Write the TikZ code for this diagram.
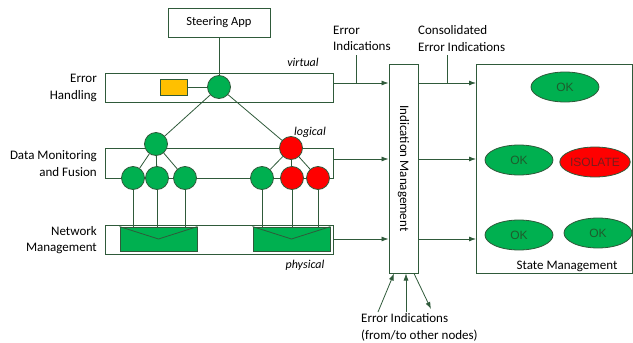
\documentclass[tikz,border=0pt]{standalone}
\usepackage{fontspec}
\setmainfont{Carlito}
\newfontfamily\arialfont{Liberation Sans}
\usetikzlibrary{arrows.meta,shapes.geometric}
\definecolor{linegreen}{HTML}{2F5A3A}
\definecolor{fillgreen}{HTML}{00B050}
\definecolor{fillred}{HTML}{FF0000}
\definecolor{fillyellow}{HTML}{FFC000}
\definecolor{okgreen}{HTML}{1E5C2C}
\definecolor{isored}{HTML}{7A1C1C}
\begin{document}
\begin{tikzpicture}[x=1pt,y=-1pt,
    every node/.style={font=\fontsize{13}{16.5}\selectfont},
    box/.style={draw=linegreen, line width=1pt, fill=white, inner sep=0pt},
    band/.style={box, minimum width=228pt, minimum height=29pt},
    gcirc/.style={circle, draw=linegreen, line width=0.8pt, fill=fillgreen, minimum size=23pt, inner sep=0pt},
    rcirc/.style={gcirc, fill=fillred},
    netbox/.style={draw=linegreen, line width=0.8pt, fill=fillgreen, minimum width=77pt, minimum height=24pt, inner sep=0pt},
    okstate/.style={ellipse, draw=linegreen, line width=0.8pt, fill=fillgreen, text=okgreen, minimum width=68pt, minimum height=30pt, inner sep=0pt, font=\arialfont\fontsize{12}{14}\selectfont},
    badstate/.style={okstate, fill=fillred, text=isored},
    lbl/.style={align=right, anchor=east, inner sep=0pt},
    tag/.style={font=\fontsize{12}{14}\selectfont\itshape},
    note/.style={anchor=west, align=left, inner sep=0pt},
    conn/.style={draw=linegreen, line width=0.8pt},
    arr/.style={conn, -{Latex[length=7pt,width=5pt]}}
  ]
  \useasboundingbox (0,0) rectangle (633,343);

  \node[box, minimum width=102pt, minimum height=29pt, font=\fontsize{12.5}{15}\selectfont] (app) at (219,22.5) {Steering App};

  \node[band] (eh) at (219,87.5) {};
  \node[band, minimum height=30pt] (dm) at (219,163) {};
  \node[band] (nm) at (219,239.5) {};

  \node[lbl] at (97,88) {Error\\Handling};
  \node[lbl] at (97,163.5) {Data Monitoring\\and Fusion};
  \node[lbl] at (97,240) {Network\\Management};

  \node[tag] at (303,62) {virtual};
  \node[tag] at (310,132) {logical};
  \node[tag] at (305,265) {physical};

  \node[draw=linegreen, line width=0.8pt, fill=fillyellow, minimum width=27pt, minimum height=16pt, inner sep=0pt] (err) at (173.5,87) {};

  \node[netbox] (nb1) at (158.5,239) {};
  \node[netbox] (nb2) at (291.5,239) {};
  \draw[conn] (nb1.north west) -- (nb1.center) -- (nb1.north east);
  \draw[conn] (nb2.north west) -- (nb2.center) -- (nb2.north east);

  \node[gcirc] (c0) at (219,87) {};
  \node[gcirc] (p1) at (156,144) {};
  \node[rcirc] (p2) at (291,148) {};
  \node[gcirc] (l1) at (133,178) {};
  \node[gcirc] (l2) at (157,178) {};
  \node[gcirc] (l3) at (185,178) {};
  \node[gcirc] (l4) at (262,178) {};
  \node[rcirc] (l5) at (292,178) {};
  \node[rcirc] (l6) at (318,178) {};

  \draw[conn] (app) -- (c0);
  \draw[conn] (err) -- (c0);
  \draw[conn] (c0) -- (p1);
  \draw[conn] (c0) -- (p2);
  \foreach \leaf in {l1,l2,l3} {
    \draw[conn] (p1) -- (\leaf);
    \draw[conn] (\leaf) -- (\leaf |- nb1.north);
  }
  \foreach \leaf in {l4,l5,l6} {
    \draw[conn] (p2) -- (\leaf);
    \draw[conn] (\leaf) -- (\leaf |- nb2.north);
  }

  \node[box, minimum width=29pt, minimum height=209pt] (im) at (403.5,168.5) {\rotatebox{-90}{Indication Management}};
  \node[box, minimum width=156pt, minimum height=209pt] (sm) at (554.5,168.5) {};
  \node at (567,266) {State Management};

  \node[okstate] (s1) at (565,87) {OK};
  \node[okstate] (s2) at (519,160) {OK};
  \node[badstate] (s3) at (595,162) {ISOLATE};
  \node[okstate] (s4) at (519,235) {OK};
  \node[okstate] (s5) at (598,233) {OK};

  \coordinate (y1) at (0,83);
  \coordinate (y2) at (0,159);
  \coordinate (y3) at (0,239);
  \draw[arr] (eh.east |- y1) -- (im.west |- y1);
  \draw[arr] (dm.east |- y2) -- (im.west |- y2);
  \draw[arr] (nm.east |- y3) -- (im.west |- y3);
  \draw[arr] (im.east |- y1) -- (sm.west |- y1);
  \draw[arr] (im.east |- y2) -- (sm.west |- y2);
  \draw[arr] (im.east |- y3) -- (sm.west |- y3);

  \node[note] (ei) at (333,38.5) {Error\\Indications};
  \node[note] (cei) at (418,38.5) {Consolidated\\Error Indications};
  \coordinate (eitail) at (356,55);
  \coordinate (ceitail) at (447,55);
  \draw[conn] (eitail) -- (eitail |- y1);
  \draw[conn] (ceitail) -- (ceitail |- y1);

  \node[note] (oth) at (361,327.5) {Error Indications\\(from/to other nodes)};
  \coordinate (b1) at (378,312);
  \coordinate (b2) at (406,312);
  \coordinate (b3) at (431,309);
  \draw[arr] (b1) -- ([xshift=-9.5pt]im.south);
  \draw[arr] (b2) -- (b2 |- im.south);
  \draw[arr] ([xshift=10.5pt]im.south) -- (b3);
\end{tikzpicture}
\end{document}
